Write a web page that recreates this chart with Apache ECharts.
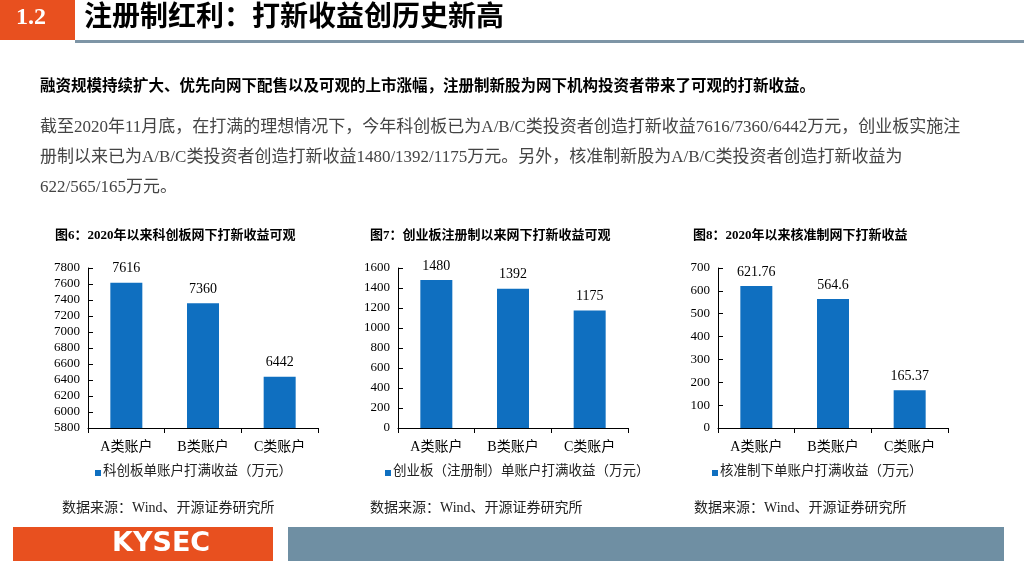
<!DOCTYPE html>
<html><head><meta charset="utf-8">
<script src="https://cdn.jsdelivr.net/npm/echarts@6/dist/echarts.min.js"></script>
<style>html,body{margin:0;padding:0;background:#fff}#main{width:1024px;height:576px}</style>
</head><body>
<div id="main"></div>
<script>
var categories = ['A类账户', 'B类账户', 'C类账户'];
var kcbValues = [7616, 7360, 6442];
var cybValues = [1480, 1392, 1175];
var hzzValues = [621.76, 564.6, 165.37];
var chartTitles = ['图6：2020年以来科创板网下打新收益可观', '图7：创业板注册制以来网下打新收益可观', '图8：2020年以来核准制网下打新收益'];
var legendNames = ['科创板单账户打满收益（万元）', '创业板（注册制）单账户打满收益（万元）', '核准制下单账户打满收益（万元）'];

var FONT = '"Liberation Serif", "Noto Sans CJK SC", serif';
var BLUE = '#0f6fc0';
var myChart = echarts.init(document.getElementById('main'));

var grids = [
  { left: 88, top: 268, width: 230, height: 160 },
  { left: 398, top: 268, width: 230, height: 160 },
  { left: 718, top: 268, width: 230, height: 160 }
];
var yAxes = [
  { min: 5800, max: 7800, interval: 200 },
  { min: 0, max: 1600, interval: 200 },
  { min: 0, max: 700, interval: 100 }
];
var dataSets = [kcbValues, cybValues, hzzValues];

function txt(x, y, text, size, color, weight) {
  return { type: 'text', left: x, top: y, style: { text: text, font: (weight || 'normal') + ' ' + size + 'px ' + FONT, fill: color || '#000' } };
}

var graphic = [
  { type: 'rect', shape: { x: 0, y: 0, width: 75, height: 40 }, style: { fill: '#e8501f' } },
  txt(16, 6, '1.2', 24, '#fff', 'bold'),
  { type: 'rect', shape: { x: 75, y: 40, width: 949, height: 3 }, style: { fill: '#7e95a6' } },
  txt(84, 5, '注册制红利：打新收益创历史新高', 28, '#000', 'bold'),
  txt(40, 79, '融资规模持续扩大、优先向网下配售以及可观的上市涨幅，注册制新股为网下机构投资者带来了可观的打新收益。', 15.5, '#000', 'bold'),
  txt(40, 119, '截至2020年11月底，在打满的理想情况下，今年科创板已为A/B/C类投资者创造打新收益7616/7360/6442万元，创业板实施注', 17, '#444'),
  txt(40, 149, '册制以来已为A/B/C类投资者创造打新收益1480/1392/1175万元。另外，核准制新股为A/B/C类投资者创造打新收益为', 17, '#444'),
  txt(40, 179, '622/565/165万元。', 17, '#444'),
  { type: 'rect', shape: { x: 13, y: 527, width: 260, height: 34 }, style: { fill: '#e8501f' } },
  { type: 'text', left: 112, top: 530, style: { text: 'KYSEC', font: 'bold 27px "DejaVu Sans", sans-serif', fill: '#fff' } },
  { type: 'rect', shape: { x: 288, y: 527, width: 716, height: 34 }, style: { fill: '#6f8fa3' } }
];
var srcX = [62, 370, 694];
var titleX = [55, 370, 693];
var legX = [95, 385, 712];
for (var i = 0; i < 3; i++) {
  graphic.push(txt(titleX[i], 229, chartTitles[i], 13, '#000', 'bold'));
  graphic.push({ type: 'rect', shape: { x: legX[i], y: 470, width: 6, height: 6 }, style: { fill: BLUE } });
  graphic.push(txt(legX[i] + 8, 465, legendNames[i], 13.5, '#222'));
  graphic.push(txt(srcX[i], 501, '数据来源：Wind、开源证券研究所', 14, '#222'));
}

var option = {
  animation: false,
  grid: grids,
  graphic: graphic,
  xAxis: grids.map(function (g, i) {
    return {
      type: 'category', gridIndex: i, data: categories,
      axisLine: { lineStyle: { color: '#000' } },
      axisTick: { show: true, lineStyle: { color: '#000' } },
      axisLabel: { color: '#000', fontFamily: FONT, fontSize: 14, margin: 12 }
    };
  }),
  yAxis: yAxes.map(function (y, i) {
    return {
      type: 'value', gridIndex: i, min: y.min, max: y.max, interval: y.interval,
      axisLine: { show: true, lineStyle: { color: '#000' } },
      axisTick: { show: true, inside: true, lineStyle: { color: '#000' } },
      splitLine: { show: false },
      axisLabel: { color: '#000', fontFamily: FONT, fontSize: 13, margin: 8, formatter: function (v) { return String(v); } }
    };
  }),
  series: dataSets.map(function (d, i) {
    return {
      type: 'bar', xAxisIndex: i, yAxisIndex: i, data: d, barWidth: 32,
      itemStyle: { color: BLUE },
      label: { show: true, position: 'top', distance: 7, color: '#000', fontFamily: FONT, fontSize: 14 }
    };
  })
};
myChart.setOption(option);
</script>
</body></html>
